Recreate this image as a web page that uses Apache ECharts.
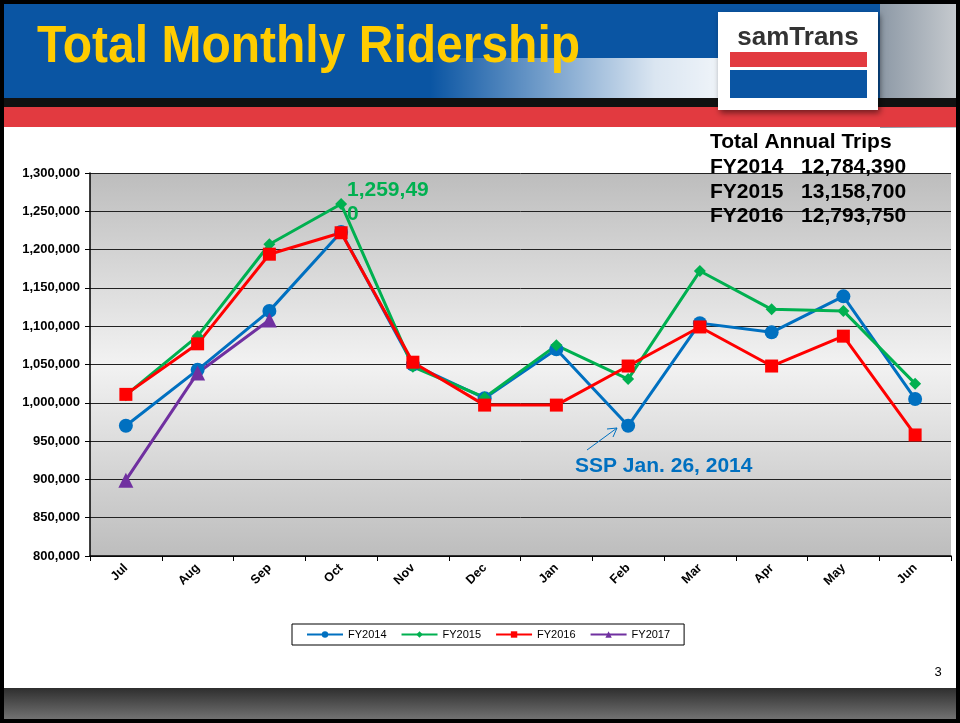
<!DOCTYPE html>
<html>
<head>
<meta charset="utf-8">
<style>
  html, body { margin: 0; padding: 0; background: #fff; }
  #chart { width: 960px; height: 723px; }
</style>
<script src="https://cdn.jsdelivr.net/npm/echarts@6/dist/echarts.min.js"></script>
</head>
<body>
<div id="chart"></div>
<script>
const months = ['Jul', 'Aug', 'Sep', 'Oct', 'Nov', 'Dec', 'Jan', 'Feb', 'Mar', 'Apr', 'May', 'Jun'];
const fy2014 = [970000, 1043000, 1120000, 1223000, 1050000, 1006000, 1070000, 970000, 1104000, 1092000, 1139000, 1005000];
const fy2015 = [1010000, 1087000, 1207000, 1259490, 1047000, 1007000, 1075000, 1031000, 1172000, 1122000, 1120000, 1025000];
const fy2016 = [1011000, 1077000, 1194000, 1222000, 1053000, 997000, 997000, 1048000, 1099000, 1048000, 1087000, 958000];
const fy2017 = [899000, 1039000, 1108000];
const annualTrips = [['FY2014', '12,784,390'], ['FY2015', '13,158,700'], ['FY2016', '12,793,750']];

const font = 'Liberation Sans, Arial, sans-serif';
const chart = echarts.init(document.getElementById('chart'));

function line(name, data, color, symbol, size) {
    return {
        name: name,
        type: 'line',
        data: data,
        symbol: symbol,
        symbolSize: size,
        lineStyle: { color: color, width: 3 },
        itemStyle: { color: color },
        z: 3
    };
}

chart.setOption({
    backgroundColor: '#fff',
    animation: false,
    grid: {
        left: 90, right: 9, top: 173, bottom: 167,
        show: true,
        borderWidth: 0,
        backgroundColor: new echarts.graphic.LinearGradient(0, 0, 0, 1, [
            { offset: 0, color: '#bdbdbd' },
            { offset: 0.5, color: '#f2f2f2' },
            { offset: 1, color: '#bdbdbd' }
        ])
    },
    xAxis: {
        type: 'category',
        data: months,
        boundaryGap: true,
        axisLine: { lineStyle: { color: '#000', width: 1.5 } },
        axisTick: { show: true, lineStyle: { color: '#000' }, length: 5 },
        axisLabel: { rotate: 45, color: '#000', fontWeight: 'bold', fontSize: 12.5, fontFamily: font, margin: 10 }
    },
    yAxis: {
        type: 'value',
        min: 800000, max: 1300000, interval: 50000,
        axisLine: { show: true, lineStyle: { color: '#000', width: 1.5 } },
        axisTick: { show: true, lineStyle: { color: '#000' }, length: 5 },
        axisLabel: {
            color: '#000', fontWeight: 'bold', fontSize: 13, fontFamily: font, margin: 10,
            formatter: v => v.toLocaleString('en-US')
        },
        splitLine: { lineStyle: { color: '#222', width: 1 } }
    },
    legend: {
        bottom: 78,
        left: 292,
        backgroundColor: '#fff',
        borderColor: '#000',
        borderWidth: 1,
        padding: [5, 14],
        itemGap: 14,
        itemWidth: 36,
        itemHeight: 8,
        textStyle: { color: '#000', fontSize: 11, fontFamily: font }
    },
    series: [
        line('FY2014', fy2014, '#0070c0', 'circle', 14),
        line('FY2015', fy2015, '#00b050', 'diamond', 12),
        line('FY2016', fy2016, '#ff0000', 'rect', 13),
        line('FY2017', fy2017, '#7030a0', 'triangle', 15)
    ],
    graphic: [
        // slide frame and header
        { type: 'rect', shape: { x: 0, y: 0, width: 960, height: 100 }, style: { fill: '#0a55a3' }, z: -10 },
        {
            type: 'rect', shape: { x: 430, y: 58, width: 300, height: 42 },
            style: {
                fill: new echarts.graphic.LinearGradient(0, 0, 1, 0, [
                    { offset: 0, color: 'rgba(255,255,255,0)' },
                    { offset: 0.75, color: 'rgba(255,255,255,0.85)' },
                    { offset: 1, color: 'rgba(255,255,255,0.95)' }
                ])
            }, z: -9
        },
        {
            type: 'rect', shape: { x: 880, y: 0, width: 80, height: 128 },
            style: {
                fill: new echarts.graphic.LinearGradient(0, 0, 1, 0, [
                    { offset: 0, color: '#8d99a6' },
                    { offset: 1, color: '#c8ccd0' }
                ])
            }, z: -9
        },
        { type: 'rect', shape: { x: 0, y: 98, width: 960, height: 9 }, style: { fill: '#111' }, z: -8 },
        { type: 'rect', shape: { x: 0, y: 107, width: 960, height: 20 }, style: { fill: '#e23a40' }, z: -8 },
        {
            type: 'text', left: 37, top: 22, z: 5, scaleY: 1.08,
            style: { text: 'Total Monthly Ridership', fill: '#ffcc00', font: 'bold 48px ' + font }
        },
        // logo
        {
            type: 'rect', shape: { x: 718, y: 12, width: 160, height: 98 },
            style: { fill: '#fff', shadowBlur: 6, shadowColor: 'rgba(0,0,0,0.5)', shadowOffsetX: 2, shadowOffsetY: 3 }, z: 5
        },
        {
            type: 'text', x: 798, y: 38, z: 6,
            style: { text: 'samTrans', fill: '#333', font: 'bold 26px ' + font, align: 'center', verticalAlign: 'middle' }
        },
        { type: 'rect', shape: { x: 730, y: 52, width: 137, height: 15 }, style: { fill: '#e23a40' }, z: 6 },
        { type: 'rect', shape: { x: 730, y: 70, width: 137, height: 28 }, style: { fill: '#0a55a3' }, z: 6 },
        // footer
        {
            type: 'rect', shape: { x: 0, y: 688, width: 960, height: 35 },
            style: {
                fill: new echarts.graphic.LinearGradient(0, 0, 0, 1, [
                    { offset: 0, color: '#2e2e2e' },
                    { offset: 1, color: '#7a7a7a' }
                ])
            }, z: -8
        },
        { type: 'rect', shape: { x: 2, y: 2, width: 956, height: 719 }, style: { fill: 'none', stroke: '#000', lineWidth: 4 }, z: 20 },
        { type: 'text', x: 938, y: 672, z: 5, style: { text: '3', fill: '#000', font: '13px ' + font, align: 'center', verticalAlign: 'middle' } },
        // annual trips
        { type: 'text', left: 710, top: 132, z: 10, style: { text: 'Total Annual Trips', fill: '#000', font: 'bold 21px ' + font } },
        ...annualTrips.map((t, i) => ({
            type: 'text', left: 710, top: 157 + i * 24.5, z: 10,
            style: { text: t[0] + '   ' + t[1], fill: '#000', font: 'bold 21px ' + font }
        })),
        // annotations
        { type: 'text', left: 347, top: 178, z: 10, style: { text: '1,259,49\n0', fill: '#00b050', font: 'bold 21px ' + font, lineHeight: 24 } },
        { type: 'text', left: 575, top: 456, z: 10, style: { text: 'SSP Jan. 26, 2014', fill: '#0070c0', font: 'bold 21px ' + font } },
        { type: 'line', shape: { x1: 587, y1: 450, x2: 617, y2: 428 }, style: { stroke: '#0070c0', lineWidth: 1 }, z: 10 },
        { type: 'polyline', shape: { points: [[607, 429], [617, 428], [613, 437]] }, style: { stroke: '#0070c0', lineWidth: 1, fill: 'none' }, z: 10 }
    ]
});
</script>
</body>
</html>
